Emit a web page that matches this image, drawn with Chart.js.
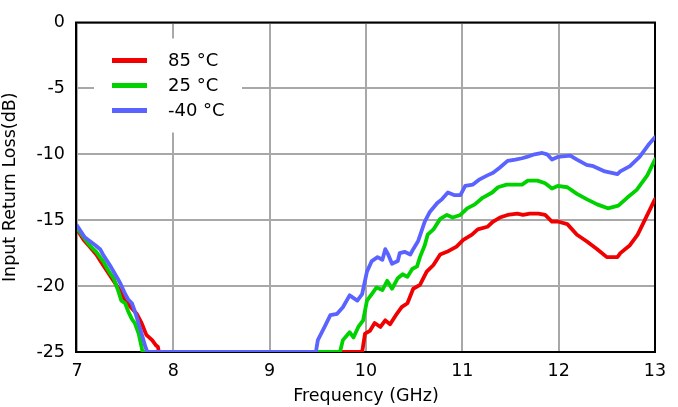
<!DOCTYPE html>
<html>
<head>
<meta charset="utf-8">
<title>Input Return Loss vs Frequency</title>
<script src="https://cdn.jsdelivr.net/npm/chart.js@4/dist/chart.umd.min.js"></script>
<style>
  html, body { margin: 0; padding: 0; background: #fff; }
  #wrap { width: 678px; height: 407px; }
</style>
</head>
<body>
<div id="wrap"><canvas id="rlChart" width="678" height="407"></canvas></div>
<script>
// ── Measured input return loss (dB) vs frequency (GHz) ──────────────────
const freq85 = [7.00, 7.07, 7.13, 7.20, 7.27, 7.38, 7.45, 7.50, 7.57, 7.62, 7.67, 7.72, 7.78, 7.82, 7.84, 7.85,
  9.96, 9.99, 10.04, 10.09, 10.15, 10.20, 10.25, 10.32, 10.37, 10.43, 10.49, 10.56, 10.63, 10.70, 10.77, 10.84,
  10.94, 11.01, 11.10, 11.16, 11.26, 11.32, 11.39, 11.47, 11.57, 11.63, 11.70, 11.79, 11.86, 11.93, 11.99, 12.09,
  12.19, 12.29, 12.40, 12.50, 12.61, 12.64, 12.74, 12.82, 12.90, 13.00];
const loss85 = [-15.7, -16.5, -17.0, -17.6, -18.4, -19.6, -20.4, -21.1, -21.7, -22.1, -22.8, -23.7, -24.1, -24.5, -24.6, -25,
  -25, -23.6, -23.4, -22.8, -23.1, -22.6, -22.9, -22.1, -21.6, -21.3, -20.2, -19.9, -18.9, -18.4, -17.6, -17.4,
  -17.0, -16.5, -16.1, -15.7, -15.5, -15.1, -14.8, -14.6, -14.5, -14.6, -14.5, -14.5, -14.6, -15.1, -15.1, -15.3,
  -16.1, -16.6, -17.2, -17.8, -17.8, -17.5, -16.9, -16.1, -14.9, -13.4];

const freq25 = [7.00, 7.07, 7.13, 7.20, 7.27, 7.34, 7.38, 7.43, 7.46, 7.50, 7.53, 7.57, 7.60, 7.64, 7.67, 7.68,
  9.73, 9.76, 9.83, 9.87, 9.92, 9.97, 10.01, 10.06, 10.11, 10.17, 10.22, 10.27, 10.33, 10.38, 10.43, 10.48,
  10.53, 10.56, 10.61, 10.64, 10.70, 10.77, 10.84, 10.90, 10.98, 11.05, 11.13, 11.21, 11.31, 11.37, 11.46, 11.55,
  11.62, 11.68, 11.78, 11.86, 11.93, 11.99, 12.09, 12.19, 12.29, 12.40, 12.51, 12.62, 12.71, 12.81, 12.92, 13.00];
const loss25 = [-15.6, -16.3, -16.9, -17.4, -18.1, -19.0, -19.4, -20.4, -21.1, -21.3, -21.9, -22.5, -22.8, -23.6, -24.6, -25,
  -25, -24.1, -23.5, -23.9, -23.1, -22.6, -21.1, -20.6, -20.1, -20.3, -19.6, -20.2, -19.4, -19.1, -19.3, -18.7,
  -18.5, -17.8, -16.9, -16.1, -15.7, -14.9, -14.6, -14.8, -14.6, -14.1, -13.8, -13.3, -12.9, -12.5, -12.3, -12.3,
  -12.3, -12.0, -12.0, -12.2, -12.6, -12.4, -12.5, -13.0, -13.4, -13.8, -14.1, -13.9, -13.3, -12.7, -11.6, -10.4];

const freqM40 = [7.00, 7.08, 7.19, 7.24, 7.27, 7.34, 7.42, 7.45, 7.50, 7.53, 7.57, 7.60, 7.63, 7.67, 7.71, 7.73,
  9.48, 9.50, 9.57, 9.63, 9.70, 9.76, 9.83, 9.91, 9.96, 10.01, 10.06, 10.12, 10.17, 10.20, 10.23, 10.27,
  10.33, 10.35, 10.40, 10.46, 10.49, 10.54, 10.61, 10.66, 10.74, 10.79, 10.85, 10.92, 10.98, 11.03, 11.11, 11.18,
  11.26, 11.32, 11.39, 11.47, 11.55, 11.62, 11.67, 11.75, 11.83, 11.88, 11.93, 11.99, 12.12, 12.19, 12.29, 12.36,
  12.48, 12.61, 12.64, 12.74, 12.84, 12.93, 13.00];
const lossM40 = [-15.4, -16.3, -16.9, -17.2, -17.6, -18.4, -19.4, -19.8, -20.6, -21.0, -21.3, -21.9, -22.6, -23.6, -24.6, -25,
  -25, -24.1, -23.1, -22.2, -22.1, -21.6, -20.7, -21.1, -20.6, -18.9, -18.1, -17.8, -18.0, -17.2, -17.6, -18.3,
  -18.1, -17.5, -17.4, -17.6, -17.2, -16.6, -15.1, -14.4, -13.7, -13.4, -12.9, -13.1, -13.1, -12.4, -12.3, -11.9,
  -11.6, -11.4, -11.0, -10.5, -10.4, -10.3, -10.2, -10.0, -9.9, -10.0, -10.4, -10.2, -10.1, -10.4, -10.8, -10.9,
  -11.3, -11.5, -11.3, -10.9, -10.2, -9.3, -8.7];

const seriesLabels = ['85 \u00B0C', '25 \u00B0C', '-40 \u00B0C'];
const seriesColors = ['#f00000', '#00d200', '#5a62ff'];

const FONT = 'DejaVu Sans';
const FONT_SIZE = 17.5;

function toPoints(xs, ys) {
  return xs.map((x, i) => ({ x: x, y: ys[i] }));
}

// ── Plot frame + inset legend ───────────────────────────────────────────
const framePlugin = {
  id: 'frame',
  beforeDatasetsDraw(chart) {
    const { ctx, chartArea: a } = chart;
    ctx.save();

    // legend box (white, sits over the grid)
    const bx = a.left + 17, by = a.top + 16;
    ctx.fillStyle = '#fff';
    ctx.fillRect(bx, by, 148, 94);
    ctx.font = `18px "${FONT}"`;
    ctx.textBaseline = 'middle';
    ctx.textAlign = 'left';
    chart.data.datasets.forEach((ds, i) => {
      const y = a.top + 38 + i * 25;
      ctx.strokeStyle = ds.borderColor;
      ctx.lineWidth = 5;
      ctx.beginPath();
      ctx.moveTo(a.left + 35, y);
      ctx.lineTo(a.left + 70, y);
      ctx.stroke();
      ctx.fillStyle = '#000';
      ctx.fillText(ds.label, a.left + 91, y + 1);
    });

    // black box round the plot area
    ctx.strokeStyle = '#000';
    ctx.lineWidth = 2;
    ctx.strokeRect(a.left - 1, a.top, a.right - a.left + 1, a.bottom - a.top);
    ctx.restore();
  }
};

const ctx = document.getElementById('rlChart');
new Chart(ctx, {
  type: 'line',
  data: {
    datasets: [
      { label: seriesLabels[0], data: toPoints(freq85, loss85), borderColor: seriesColors[0], order: 3 },
      { label: seriesLabels[1], data: toPoints(freq25, loss25), borderColor: seriesColors[1], order: 2 },
      { label: seriesLabels[2], data: toPoints(freqM40, lossM40), borderColor: seriesColors[2], order: 1 }
    ]
  },
  options: {
    responsive: false,
    animation: false,
    devicePixelRatio: 1,
    layout: { padding: { top: 17, right: 23, left: 0, bottom: 0 } },
    elements: {
      line: { borderWidth: 3.8, tension: 0, borderJoinStyle: 'round', borderCapStyle: 'round' },
      point: { radius: 0 }
    },
    plugins: {
      legend: { display: false },
      tooltip: { enabled: false }
    },
    scales: {
      x: {
        type: 'linear',
        min: 7,
        max: 13,
        afterFit(scale) { scale.height = 55; },
        grid: { color: '#a8a8a8', lineWidth: 2, drawTicks: false },
        border: { display: false },
        ticks: { stepSize: 1, color: '#000', padding: 9, font: { family: FONT, size: FONT_SIZE } },
        title: { display: true, text: 'Frequency (GHz)', color: '#000', padding: { top: 1, bottom: 0 }, font: { family: FONT, size: FONT_SIZE } }
      },
      y: {
        min: -25,
        max: 0,
        afterFit(scale) { scale.width = 77; },
        grid: { color: '#a8a8a8', lineWidth: 2, drawTicks: false },
        border: { display: false },
        ticks: { stepSize: 5, color: '#000', padding: 12, font: { family: FONT, size: FONT_SIZE } },
        title: { display: true, text: 'Input Return Loss(dB)', color: '#000', padding: { top: 0, bottom: 4 }, font: { family: FONT, size: FONT_SIZE } }
      }
    }
  },
  plugins: [framePlugin]
});
</script>
</body>
</html>
